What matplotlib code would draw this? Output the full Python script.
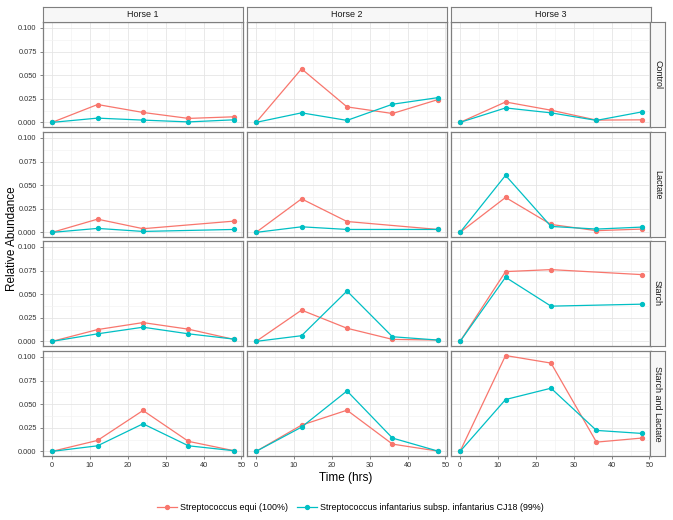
import matplotlib.pyplot as plt
import numpy as np

plt.rcParams['font.family'] = ['Liberation Sans', 'DejaVu Sans']

nan = np.nan
hours = [0, 12, 24, 36, 48]
horses = ["Horse 1", "Horse 2", "Horse 3"]
treatments = ["Control", "Lactate", "Starch", "Starch and Lactate"]
species = ["Streptococcus equi (100%)",
           "Streptococcus infantarius subsp. infantarius CJ18 (99%)"]
colors = ["#F8766D", "#00BFC4"]

# Streptococcus equi (100%), one list per horse
equi = {
    "Control": [[0, 0.0189, 0.0105, 0.0042, 0.0059],
                [0, 0.0567, 0.0164, 0.0094, 0.0241],
                [0, 0.0216, 0.0129, 0.0024, 0.0027]],
    "Lactate": [[0, 0.0140, 0.0039, nan, 0.0119],
                [0, 0.0355, 0.0115, nan, 0.0031],
                [0, 0.0370, 0.0084, 0.0018, 0.0035]],
    "Starch": [[0, 0.0125, 0.0199, 0.0129, 0.0021],
               [0, 0.0331, 0.0139, 0.0021, 0.0014],
               [0, 0.0739, 0.0760, nan, 0.0707]],
    "Starch and Lactate": [[0, 0.0116, 0.0433, 0.0106, 0.0007],
                           [0, 0.0278, 0.0436, 0.0077, 0.0003],
                           [0, 0.1015, 0.0935, 0.0098, 0.0141]],
}

# Streptococcus infantarius subsp. infantarius CJ18 (99%)
infantarius = {
    "Control": [[0, 0.0045, 0.0024, 0.0005, 0.0027],
                [0, 0.0101, 0.0021, 0.0192, 0.0262],
                [0, 0.0153, 0.0101, 0.0021, 0.0111]],
    "Lactate": [[0, 0.0042, 0.0010, nan, 0.0031],
                [0, 0.0059, 0.0031, nan, 0.0031],
                [0, 0.0604, 0.0063, 0.0035, 0.0056]],
    "Starch": [[0, 0.0080, 0.0150, 0.0080, 0.0024],
               [0, 0.0060, 0.0533, 0.0049, 0.0014],
               [0, 0.0679, 0.0373, nan, 0.0394]],
    "Starch and Lactate": [[0, 0.0059, 0.0292, 0.0059, 0.0007],
                           [0, 0.0257, 0.0640, 0.0141, 0.0003],
                           [0, 0.0549, 0.0669, 0.0222, 0.0190]],
}

W, H = 673, 520
fig = plt.figure(figsize=(W / 100, H / 100), dpi=100)

col_x = [43, 247, 451]
row_y = [22, 132, 241, 351]
pw, ph = 200, 105
border = "#7f7f7f"


def box(x, y, w, h):
    return [x / W, 1 - (y + h) / H, w / W, h / H]


def strip(rect, text, rot):
    s = fig.add_axes(rect)
    s.set_facecolor("#f7f7f7")
    s.set_xticks([])
    s.set_yticks([])
    for sp in s.spines.values():
        sp.set_color(border)
        sp.set_linewidth(0.8)
    s.text(0.5, 0.5, text, ha="center", va="center", rotation=rot,
           fontsize=6.5, color="#1a1a1a", transform=s.transAxes)


handles = []
for r, treat in enumerate(treatments):
    for c in range(3):
        ax = fig.add_axes(box(col_x[c], row_y[r], pw, ph))
        for k, data in enumerate([equi, infantarius]):
            y = np.array(data[treat][c], dtype=float)
            x = np.array(hours, dtype=float)
            ok = ~np.isnan(y)
            ln, = ax.plot(x[ok], y[ok], color=colors[k], lw=0.9,
                          marker="o", ms=2.8, zorder=3 + k)
            if r == 0 and c == 0:
                handles.append(ln)
        ax.set_xlim(-2.4, 50.4)
        ax.set_ylim(-0.0049, 0.1063)
        ax.set_xticks([0, 10, 20, 30, 40, 50])
        ax.set_xticks([5, 15, 25, 35, 45], minor=True)
        ax.set_yticks([0, 0.025, 0.05, 0.075, 0.1])
        ax.set_yticks([0.0125, 0.0375, 0.0625, 0.0875], minor=True)
        ax.grid(which="major", color="#e5e5e5", lw=0.6)
        ax.grid(which="minor", color="#f3f3f3", lw=0.5)
        ax.set_axisbelow(True)
        ax.tick_params(which="minor", length=0)
        ax.tick_params(which="major", length=2.5, width=0.5, color="#555555",
                       labelsize=5.3, labelcolor="#333333", pad=2)
        for sp in ax.spines.values():
            sp.set_color(border)
            sp.set_linewidth(0.9)
        if c == 0:
            ax.set_yticklabels(["0.000", "0.025", "0.050", "0.075", "0.100"])
        else:
            ax.tick_params(axis="y", labelleft=False, length=0)
        if r < 3:
            ax.tick_params(axis="x", labelbottom=False, length=0)
        if r == 0:
            strip(box(col_x[c], 7, pw, 15), horses[c], 0)
        if c == 2:
            strip(box(650, row_y[r], 15, ph), treat, -90)

fig.text(346 / W, 1 - 478 / H, "Time (hrs)", ha="center", va="center",
         fontsize=8.5)
fig.text(12 / W, 1 - 239 / H, "Relative Abundance", ha="center",
         va="center", rotation=90, fontsize=8.5)

fig.legend(handles, species, loc="center", bbox_to_anchor=(0.521, 1 - 508 / H),
           ncol=2, frameon=False, fontsize=6.4, handlelength=2.2,
           columnspacing=1.0, handletextpad=0.4)

fig.savefig("out.png", dpi=100)
